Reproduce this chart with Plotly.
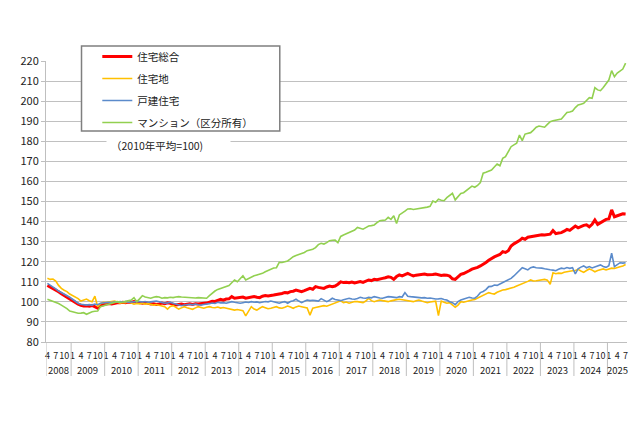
import plotly.graph_objects as go

START_YEAR, START_MONTH = 2008, 4
series_names = ["住宅総合", "住宅地", "戸建住宅", "マンション（区分所有）"]
series_colors = ["#FF0000", "#FFC000", "#5B8BCB", "#92D050"]
series_widths = [3, 1.6, 1.6, 1.6]

# monthly values, Apr 2008 - Jul 2025 (one row per calendar year)
sogo = [
    108.2, 107.5, 106.6, 105.9, 105.0, 104.1, 103.2, 102.4, 101.4,
    100.5, 99.6, 98.9, 98.3, 97.9, 98.0, 97.8, 98.2, 97.4, 96.9, 98.7, 98.6,
    98.9, 99.2, 99.0, 99.4, 99.6, 99.5, 99.8, 99.6, 99.9, 99.7, 100.2, 100.0,
    99.8, 99.3, 99.6, 99.2, 98.9, 99.1, 98.7, 99.0, 99.4, 99.1, 99.5, 99.3,
    98.8, 98.4, 98.7, 98.9, 98.6, 98.8, 99.0, 98.7, 99.1, 98.9, 99.2, 99.3,
    99.4, 99.8, 100.3, 100.2, 100.9, 101.2, 100.8, 101.4, 101.5, 102.6, 101.8, 102.0,
    102.1, 102.4, 101.8, 102.2, 102.6, 102.7, 102.3, 102.1, 102.8, 103.1, 102.9, 103.3,
    103.4, 103.7, 103.9, 104.2, 104.7, 104.5, 105.1, 105.3, 105.9, 105.4, 105.1, 105.6,
    106.2, 106.7, 106.3, 107.6, 107.2, 106.9, 106.7, 107.4, 107.9, 107.6, 107.9, 108.8,
    110.0, 109.6, 109.8, 109.5, 109.9, 109.4, 109.8, 110.1, 109.7, 110.5, 110.9, 110.6,
    111.2, 111.0, 111.5, 111.7, 112.0, 112.5, 112.2, 111.2, 112.6, 113.4, 112.9, 113.6,
    114.2, 113.5, 112.9, 113.3, 113.4, 113.8, 113.9, 113.5, 113.4, 113.6, 113.9, 113.6,
    113.2, 113.4, 113.3, 112.8, 111.5, 111.2, 112.6, 113.7, 114.1, 114.6, 115.5, 116.3,
    116.6, 117.2, 117.9, 118.6, 119.6, 120.7, 121.7, 122.4, 123.0, 123.6, 125.0, 124.6,
    125.5, 127.8, 128.9, 129.6, 130.5, 131.7, 131.2, 132.2, 132.5, 132.8, 133.0, 133.3,
    133.4, 133.3, 133.6, 133.7, 135.5, 134.0, 134.3, 134.5, 135.2, 136.1, 135.6, 136.6,
    137.8, 136.9, 137.6, 138.1, 138.4, 137.4, 138.6, 140.8, 138.6, 139.4, 140.3, 141.1,
    141.3, 145.8, 142.4, 142.9, 143.7, 143.9, 143.8,
]
takuchi = [
    111.7, 111.2, 111.4, 110.4, 108.2, 106.7, 105.8, 105.1, 103.9,
    103.2, 102.4, 101.6, 100.4, 101.0, 101.4, 100.6, 100.1, 102.8, 97.6, 99.1, 99.8,
    99.6, 99.8, 100.2, 100.4, 99.9, 99.3, 99.7, 99.6, 100.1, 99.5, 98.8, 99.2,
    99.0, 99.3, 98.9, 99.1, 98.6, 98.4, 98.7, 98.2, 97.9, 97.6, 96.4, 97.7,
    98.1, 97.2, 96.4, 97.0, 97.6, 97.1, 96.8, 96.3, 97.0, 97.6, 97.2, 96.8,
    97.3, 97.6, 97.2, 97.1, 97.4, 96.9, 97.2, 96.8, 96.5, 96.1, 95.9, 96.2,
    95.9, 95.6, 93.0, 95.2, 97.6, 96.4, 95.9, 96.8, 97.6, 97.1, 96.6, 96.8,
    97.2, 97.6, 97.0, 96.8, 97.3, 97.9, 97.4, 96.8, 97.5, 97.9, 97.6, 97.3,
    97.0, 93.4, 96.8, 97.2, 97.4, 97.9, 98.1, 97.8, 98.4, 98.9, 99.6, 100.3,
    100.5, 99.6, 99.9, 99.3, 99.8, 100.2, 100.1, 99.9, 99.6, 100.4, 101.8, 100.6,
    100.1, 100.5, 100.9, 100.6, 100.3, 100.1, 100.5, 100.9, 101.1, 101.3, 101.0, 100.7,
    100.6, 100.3, 100.1, 100.6, 100.9, 100.4, 100.0, 99.6, 99.9, 100.1, 100.3, 93.2,
    100.4, 99.8, 99.3, 99.6, 98.2, 97.3, 98.4, 100.1, 99.8, 100.3, 100.6, 100.9,
    101.2, 101.9, 102.6, 103.2, 103.8, 104.6, 104.2, 103.9, 104.8, 105.4, 105.9, 106.1,
    106.5, 106.7, 107.3, 107.9, 108.4, 109.1, 109.7, 110.2, 110.9, 110.4, 110.5, 110.8,
    110.9, 111.2, 110.8, 108.7, 114.5, 114.0, 114.3, 114.2, 114.8, 115.1, 115.2, 115.5,
    115.6, 116.2, 115.4, 114.7, 115.6, 116.4, 115.8, 115.0, 115.6, 116.0, 116.4, 115.9,
    116.3, 116.8, 116.6, 117.2, 117.5, 117.9, 118.6,
]
kodate = [
    109.2, 108.4, 107.6, 106.5, 105.4, 104.7, 104.0, 103.4, 102.3,
    101.3, 100.3, 99.3, 98.8, 98.5, 98.4, 98.6, 98.4, 98.9, 98.6, 99.3, 99.5,
    99.6, 99.8, 99.7, 100.0, 99.8, 100.1, 99.9, 100.2, 99.8, 99.9, 100.3, 100.1,
    100.1, 99.9, 100.2, 99.8, 100.0, 100.3, 100.4, 100.1, 99.6, 99.3, 99.5, 99.8,
    99.3, 98.8, 98.5, 98.1, 98.4, 98.7, 98.8, 98.5, 98.9, 98.6, 98.4, 98.7,
    98.8, 99.1, 99.4, 99.2, 99.8, 99.5, 99.6, 99.3, 99.7, 100.1, 99.8, 99.5,
    99.3, 99.6, 99.9, 99.7, 100.1, 99.8, 100.0, 99.6, 99.9, 100.2, 100.0, 100.4,
    100.1, 99.7, 99.3, 99.8, 100.1, 99.3, 100.2, 100.6, 101.3, 100.4, 99.6, 100.3,
    100.9, 100.6, 100.8, 100.6, 100.4, 101.6, 100.9, 100.1, 100.8, 101.8, 101.2, 100.9,
    100.6, 101.0, 101.5, 101.8, 101.4, 101.3, 101.7, 102.3, 101.9, 101.8, 102.2, 102.0,
    102.6, 102.2, 101.9, 101.8, 102.3, 102.6, 102.5, 102.3, 102.1, 102.6, 102.4, 104.6,
    102.8, 102.6, 102.4, 102.2, 102.3, 102.0, 102.1, 101.8, 101.9, 101.6, 101.4, 101.5,
    101.7, 101.2, 100.9, 100.1, 99.6, 98.6, 100.1, 100.9, 101.4, 101.9, 102.3, 101.9,
    101.8, 102.9, 104.6, 105.2, 106.1, 107.6, 107.7, 108.4, 108.2, 108.9, 109.5, 110.2,
    111.1, 111.7, 112.9, 114.2, 115.3, 117.0, 116.5, 115.9, 117.0, 117.4, 117.0, 117.0,
    116.8, 116.5, 116.4, 116.0, 115.8, 115.5, 116.2, 116.8, 116.5, 117.1, 116.7, 117.0,
    113.9, 116.5, 117.3, 117.9, 117.0, 117.6, 116.9, 117.5, 118.0, 118.4, 117.6, 117.2,
    118.0, 124.2, 117.5, 118.7, 119.5, 119.3, 119.5,
]
mansion = [
    101.3, 100.8, 100.4, 99.8, 99.2, 98.4, 97.6, 96.6, 95.4,
    95.1, 94.6, 94.3, 94.4, 94.6, 93.8, 94.5, 95.1, 95.3, 95.4, 97.6, 98.0,
    98.4, 98.9, 99.3, 99.7, 100.1, 99.9, 99.8, 100.3, 100.6, 100.9, 102.1, 100.1,
    101.5, 103.1, 102.4, 102.0, 101.8, 102.3, 102.6, 102.4, 101.8, 102.1, 102.0, 102.3,
    102.1, 102.4, 102.6, 102.4, 102.3, 102.1, 102.0, 101.8, 101.9, 102.1, 101.9, 101.8,
    101.8, 103.1, 104.3, 105.4, 106.2, 106.7, 107.4, 107.6, 108.1, 109.5, 110.9, 110.0,
    111.4, 113.0, 110.9, 111.7, 112.3, 113.0, 113.4, 113.8, 114.2, 115.0, 115.6, 116.4,
    116.9, 117.0, 119.7, 119.6, 120.0, 120.4, 121.4, 122.5, 123.1, 123.6, 124.2, 124.6,
    125.5, 125.8, 126.2, 127.0, 128.5, 129.2, 128.8, 129.5, 130.5, 130.7, 130.8, 129.5,
    132.6, 133.3, 133.9, 134.7, 135.2, 135.8, 137.1, 136.5, 136.2, 137.0, 137.8, 138.0,
    138.3, 139.5, 140.4, 140.6, 140.8, 142.1, 141.1, 142.9, 139.1, 143.3, 144.1, 145.2,
    146.3, 146.4, 146.0, 146.2, 146.5, 146.6, 146.9, 147.2, 147.6, 150.2, 149.6, 151.1,
    150.6, 150.4, 151.9, 153.0, 154.1, 150.8, 152.5, 154.0, 154.4, 155.4, 156.5, 157.7,
    157.1, 158.0, 159.4, 164.1, 164.6, 165.2, 165.7, 167.2, 168.7, 167.8, 171.5, 172.3,
    174.5, 177.3, 178.2, 179.0, 183.1, 180.3, 183.6, 183.9, 184.3, 185.6, 187.0, 187.6,
    187.2, 187.0, 188.4, 189.8, 190.2, 190.6, 190.9, 191.1, 192.7, 194.3, 194.6, 195.1,
    196.8, 198.1, 198.5, 198.9, 200.3, 201.7, 201.4, 206.7, 205.6, 205.2, 206.8, 208.9,
    210.5, 215.2, 212.2, 214.0, 215.2, 216.0, 218.9,
]
tick_months = [4, 7, 10, 1]
y_ticks = list(range(80, 221, 10))
note_text = "（2010年平均=100)"

all_series = [sogo, takuchi, kodate, mansion]
n = len(sogo)

# calendar of the monthly points
years, months = [], []
yy, mm = START_YEAR, START_MONTH
for _ in range(n):
    years.append(yy)
    months.append(mm)
    mm += 1
    if mm > 12:
        mm, yy = 1, yy + 1
idx = list(range(n))

tickvals = [i for i in idx if months[i] in tick_months]
ticktext = [str(months[i]) for i in tickvals]

# page body has an 8px margin: the figure is sized so that it still ends at 640x427
OFF = 8
VW, VH = 640, 427
W, H = VW - OFF, VH - OFF
PLOT_L, PLOT_R, PLOT_T, PLOT_B = 39, 628, 61, 342   # plot area in window pixels
L, T = PLOT_L - OFF, PLOT_T - OFF
R, B = VW - PLOT_R, VH - PLOT_B
PW, PH = PLOT_R - PLOT_L, PLOT_B - PLOT_T
FONT = "Noto Sans CJK JP"


def px_x(p):
    return (p - PLOT_L) / PW


def px_y(p):
    return (PLOT_B - p) / PH


fig = go.Figure()
for name, vals, col, w in zip(series_names, all_series, series_colors, series_widths):
    fig.add_trace(go.Scatter(
        x=idx, y=vals, mode="lines", name=name,
        line=dict(color=col, width=w),
        legendgroup=name,
    ))

shapes = []
annotations = []
year_list = sorted(set(years))
for yv in year_list:
    members = [i for i in idx if years[i] == yv]
    first, last = members[0], members[-1]
    shapes.append(dict(type="line", xref="x", yref="paper",
                       x0=first - 0.5, x1=first - 0.5, y0=0, y1=px_y(376),
                       line=dict(color="#BFBFBF", width=1)))
    annotations.append(dict(x=(first + last) / 2, xref="x", y=px_y(369.5), yref="paper",
                            text=str(yv), showarrow=False, yanchor="middle",
                            font=dict(size=9.5, color="#222", family=FONT)))

# legend frame
shapes.append(dict(type="rect", xref="paper", yref="paper",
                   x0=px_x(75), x1=px_x(276), y0=px_y(131), y1=px_y(46),
                   line=dict(color="#7F7F7F", width=1.5), fillcolor="white",
                   layer="above"))

annotations.append(dict(x=px_x(100), xref="paper", y=px_y(145), yref="paper",
                        text=note_text, showarrow=False, xanchor="left", yanchor="middle",
                        align="left", width=115, height=14, borderpad=4,
                        bgcolor="white", font=dict(size=10.5, color="#222", family=FONT)))

fig.update_layout(
    width=W, height=H,
    margin=dict(l=L, r=R, t=T, b=B, pad=0),
    paper_bgcolor="white", plot_bgcolor="white",
    font=dict(family=FONT, color="#222"),
    showlegend=True,
    legend=dict(x=px_x(91), y=px_y(42), xanchor="left", yanchor="top",
                bgcolor="rgba(0,0,0,0)", borderwidth=0,
                font=dict(size=10.5, color="#222", family=FONT),
                tracegroupgap=3, itemwidth=30),
    shapes=shapes,
    annotations=annotations,
    xaxis=dict(range=[-0.5, n - 0.5], tickmode="array", tickvals=tickvals, ticktext=ticktext,
               showgrid=False, zeroline=False, showline=True, linecolor="#BFBFBF",
               ticks="", tickangle=0, ticklabelstandoff=5,
               tickfont=dict(size=9, color="#222", family=FONT)),
    yaxis=dict(range=[80, 220], tickmode="array", tickvals=y_ticks,
               showgrid=True, gridcolor="#C0C0C0", gridwidth=1, zeroline=False,
               showline=True, linecolor="#BFBFBF", ticks="outside", ticklen=4,
               tickcolor="#BFBFBF", tickfont=dict(size=11, color="#222", family=FONT)),
)

fig.write_html("out.html")
